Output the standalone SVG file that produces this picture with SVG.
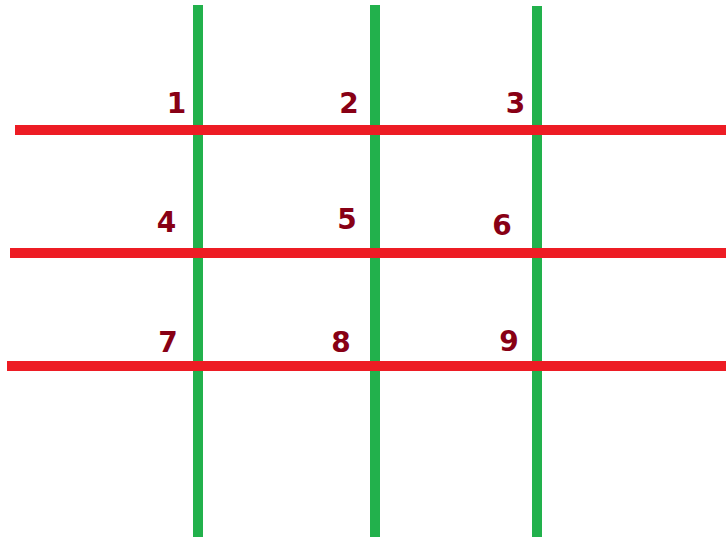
<svg xmlns="http://www.w3.org/2000/svg" width="726" height="537" viewBox="0 0 726 537">
<style>
.v{stroke:#22B14C;stroke-width:10;fill:none}
.h{stroke:#ED1C24;stroke-width:10;fill:none}
.n{font-family:"DejaVu Sans","Liberation Sans",sans-serif;font-weight:bold;font-size:28px;fill:#880015;text-anchor:middle}
</style>
<rect width="726" height="537" fill="#fff"/>
<g id="connectors">
<line class="v" x1="198" y1="5" x2="198" y2="537"/>
<line class="v" x1="375" y1="5" x2="375" y2="537"/>
<line class="v" x1="537" y1="6" x2="537" y2="537"/>
<line class="h" x1="15" y1="130" x2="726" y2="130"/>
<line class="h" x1="10" y1="253" x2="726" y2="253"/>
<line class="h" x1="7" y1="366" x2="726" y2="366"/>
</g>
<g id="n1"><text class="n" x="176.5" y="113">1</text></g>
<g id="n2"><text class="n" x="349" y="113">2</text></g>
<g id="n3"><text class="n" x="515.5" y="113">3</text></g>
<g id="n4"><text class="n" x="166.5" y="232">4</text></g>
<g id="n5"><text class="n" x="347" y="229">5</text></g>
<g id="n6"><text class="n" x="502" y="235">6</text></g>
<g id="n7"><text class="n" x="168" y="352">7</text></g>
<g id="n8"><text class="n" x="341" y="352">8</text></g>
<g id="n9"><text class="n" x="509" y="351">9</text></g>
</svg>
